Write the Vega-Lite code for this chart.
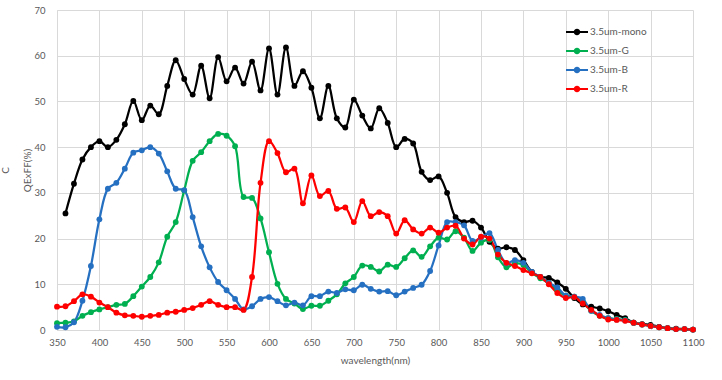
{
  "$schema": "https://vega.github.io/schema/vega-lite/v6.json",
  "autosize": {"type": "none"},
  "padding": {"left": 57, "top": 10, "right": 29, "bottom": 50},
  "width": 636,
  "height": 320,
  "background": "white",
  "config": {
    "font": "Lato",
    "view": {"stroke": null},
    "axis": {
      "gridColor": "#D9D9D9",
      "gridWidth": 1,
      "domainColor": "#D9D9D9",
      "ticks": false,
      "labelColor": "#595959",
      "labelFontSize": 9.5,
      "labelFont": "Lato",
      "titleColor": "#595959",
      "titleFontWeight": "normal",
      "titleFontSize": 10,
      "titleFont": "Lato"
    }
  },
  "data": {
    "values": [
      {"s":"3.5um-mono","nm":360,"v":25.5},{"s":"3.5um-mono","nm":370,"v":32.0},{"s":"3.5um-mono","nm":380,"v":37.3},{"s":"3.5um-mono","nm":390,"v":40.0},{"s":"3.5um-mono","nm":400,"v":41.3},{"s":"3.5um-mono","nm":410,"v":40.0},{"s":"3.5um-mono","nm":420,"v":41.6},{"s":"3.5um-mono","nm":430,"v":45.0},{"s":"3.5um-mono","nm":440,"v":50.1},{"s":"3.5um-mono","nm":450,"v":45.9},{"s":"3.5um-mono","nm":460,"v":49.1},{"s":"3.5um-mono","nm":470,"v":47.2},{"s":"3.5um-mono","nm":480,"v":53.4},{"s":"3.5um-mono","nm":490,"v":59.0},{"s":"3.5um-mono","nm":500,"v":54.9},{"s":"3.5um-mono","nm":510,"v":51.5},{"s":"3.5um-mono","nm":520,"v":57.8},{"s":"3.5um-mono","nm":530,"v":50.7},{"s":"3.5um-mono","nm":540,"v":59.7},{"s":"3.5um-mono","nm":550,"v":54.4},{"s":"3.5um-mono","nm":560,"v":57.4},{"s":"3.5um-mono","nm":570,"v":53.9},{"s":"3.5um-mono","nm":580,"v":58.7},{"s":"3.5um-mono","nm":590,"v":52.4},{"s":"3.5um-mono","nm":600,"v":61.6},{"s":"3.5um-mono","nm":610,"v":51.5},{"s":"3.5um-mono","nm":620,"v":61.8},{"s":"3.5um-mono","nm":630,"v":53.4},{"s":"3.5um-mono","nm":640,"v":56.6},{"s":"3.5um-mono","nm":650,"v":53.0},{"s":"3.5um-mono","nm":660,"v":46.3},{"s":"3.5um-mono","nm":670,"v":53.4},{"s":"3.5um-mono","nm":680,"v":46.3},{"s":"3.5um-mono","nm":690,"v":44.3},{"s":"3.5um-mono","nm":700,"v":50.4},{"s":"3.5um-mono","nm":710,"v":46.9},{"s":"3.5um-mono","nm":720,"v":44.1},{"s":"3.5um-mono","nm":730,"v":48.5},{"s":"3.5um-mono","nm":740,"v":45.3},{"s":"3.5um-mono","nm":750,"v":40.0},{"s":"3.5um-mono","nm":760,"v":41.8},{"s":"3.5um-mono","nm":770,"v":40.8},{"s":"3.5um-mono","nm":780,"v":34.6},{"s":"3.5um-mono","nm":790,"v":32.8},{"s":"3.5um-mono","nm":800,"v":33.6},{"s":"3.5um-mono","nm":810,"v":30.0},{"s":"3.5um-mono","nm":820,"v":24.7},{"s":"3.5um-mono","nm":830,"v":23.6},{"s":"3.5um-mono","nm":840,"v":23.9},{"s":"3.5um-mono","nm":850,"v":22.4},{"s":"3.5um-mono","nm":860,"v":19.3},{"s":"3.5um-mono","nm":870,"v":17.8},{"s":"3.5um-mono","nm":880,"v":18.1},{"s":"3.5um-mono","nm":890,"v":17.5},{"s":"3.5um-mono","nm":900,"v":15.3},{"s":"3.5um-mono","nm":910,"v":12.7},{"s":"3.5um-mono","nm":920,"v":11.6},{"s":"3.5um-mono","nm":930,"v":11.4},{"s":"3.5um-mono","nm":940,"v":10.4},{"s":"3.5um-mono","nm":950,"v":9.0},{"s":"3.5um-mono","nm":960,"v":7.0},{"s":"3.5um-mono","nm":970,"v":5.6},{"s":"3.5um-mono","nm":980,"v":5.1},{"s":"3.5um-mono","nm":990,"v":4.7},{"s":"3.5um-mono","nm":1000,"v":4.1},{"s":"3.5um-mono","nm":1010,"v":3.3},{"s":"3.5um-mono","nm":1020,"v":2.6},{"s":"3.5um-mono","nm":1030,"v":1.6},{"s":"3.5um-mono","nm":1040,"v":1.3},{"s":"3.5um-mono","nm":1050,"v":1.1},{"s":"3.5um-mono","nm":1060,"v":0.7},{"s":"3.5um-mono","nm":1070,"v":0.4},{"s":"3.5um-mono","nm":1080,"v":0.3},{"s":"3.5um-mono","nm":1090,"v":0.2},{"s":"3.5um-mono","nm":1100,"v":0.1},
      {"s":"3.5um-G","nm":350,"v":1.5},{"s":"3.5um-G","nm":360,"v":1.6},{"s":"3.5um-G","nm":370,"v":1.9},{"s":"3.5um-G","nm":380,"v":3.1},{"s":"3.5um-G","nm":390,"v":3.9},{"s":"3.5um-G","nm":400,"v":4.5},{"s":"3.5um-G","nm":410,"v":5.0},{"s":"3.5um-G","nm":420,"v":5.5},{"s":"3.5um-G","nm":430,"v":5.7},{"s":"3.5um-G","nm":440,"v":7.4},{"s":"3.5um-G","nm":450,"v":9.5},{"s":"3.5um-G","nm":460,"v":11.6},{"s":"3.5um-G","nm":470,"v":14.8},{"s":"3.5um-G","nm":480,"v":20.4},{"s":"3.5um-G","nm":490,"v":23.6},{"s":"3.5um-G","nm":500,"v":30.5},{"s":"3.5um-G","nm":510,"v":37.0},{"s":"3.5um-G","nm":520,"v":38.9},{"s":"3.5um-G","nm":530,"v":41.3},{"s":"3.5um-G","nm":540,"v":42.9},{"s":"3.5um-G","nm":550,"v":42.5},{"s":"3.5um-G","nm":560,"v":40.2},{"s":"3.5um-G","nm":570,"v":29.1},{"s":"3.5um-G","nm":580,"v":28.9},{"s":"3.5um-G","nm":590,"v":24.4},{"s":"3.5um-G","nm":600,"v":17.0},{"s":"3.5um-G","nm":610,"v":10.1},{"s":"3.5um-G","nm":620,"v":6.8},{"s":"3.5um-G","nm":630,"v":5.8},{"s":"3.5um-G","nm":640,"v":4.6},{"s":"3.5um-G","nm":650,"v":5.3},{"s":"3.5um-G","nm":660,"v":5.3},{"s":"3.5um-G","nm":670,"v":6.4},{"s":"3.5um-G","nm":680,"v":7.8},{"s":"3.5um-G","nm":690,"v":10.2},{"s":"3.5um-G","nm":700,"v":11.6},{"s":"3.5um-G","nm":710,"v":14.1},{"s":"3.5um-G","nm":720,"v":13.8},{"s":"3.5um-G","nm":730,"v":12.8},{"s":"3.5um-G","nm":740,"v":14.3},{"s":"3.5um-G","nm":750,"v":13.8},{"s":"3.5um-G","nm":760,"v":15.7},{"s":"3.5um-G","nm":770,"v":17.4},{"s":"3.5um-G","nm":780,"v":16.0},{"s":"3.5um-G","nm":790,"v":18.3},{"s":"3.5um-G","nm":800,"v":20.2},{"s":"3.5um-G","nm":810,"v":19.8},{"s":"3.5um-G","nm":820,"v":21.6},{"s":"3.5um-G","nm":830,"v":20.2},{"s":"3.5um-G","nm":840,"v":17.3},{"s":"3.5um-G","nm":850,"v":19.1},{"s":"3.5um-G","nm":860,"v":19.7},{"s":"3.5um-G","nm":870,"v":15.9},{"s":"3.5um-G","nm":880,"v":13.7},{"s":"3.5um-G","nm":890,"v":14.6},{"s":"3.5um-G","nm":900,"v":14.2},{"s":"3.5um-G","nm":910,"v":12.5},{"s":"3.5um-G","nm":920,"v":11.3},{"s":"3.5um-G","nm":930,"v":10.3},{"s":"3.5um-G","nm":940,"v":8.7},{"s":"3.5um-G","nm":950,"v":7.5},{"s":"3.5um-G","nm":960,"v":7.3},{"s":"3.5um-G","nm":970,"v":6.0},{"s":"3.5um-G","nm":980,"v":4.2},{"s":"3.5um-G","nm":990,"v":3.1},{"s":"3.5um-G","nm":1000,"v":2.6},{"s":"3.5um-G","nm":1010,"v":2.4},{"s":"3.5um-G","nm":1020,"v":2.2},{"s":"3.5um-G","nm":1030,"v":1.6},{"s":"3.5um-G","nm":1040,"v":1.2},{"s":"3.5um-G","nm":1050,"v":0.9},{"s":"3.5um-G","nm":1060,"v":0.6},{"s":"3.5um-G","nm":1070,"v":0.4},{"s":"3.5um-G","nm":1080,"v":0.2},{"s":"3.5um-G","nm":1090,"v":0.2},{"s":"3.5um-G","nm":1100,"v":0.1},
      {"s":"3.5um-B","nm":350,"v":0.7},{"s":"3.5um-B","nm":360,"v":0.6},{"s":"3.5um-B","nm":370,"v":1.7},{"s":"3.5um-B","nm":380,"v":6.4},{"s":"3.5um-B","nm":390,"v":14.0},{"s":"3.5um-B","nm":400,"v":24.2},{"s":"3.5um-B","nm":410,"v":30.9},{"s":"3.5um-B","nm":420,"v":32.2},{"s":"3.5um-B","nm":430,"v":35.3},{"s":"3.5um-B","nm":440,"v":38.8},{"s":"3.5um-B","nm":450,"v":39.3},{"s":"3.5um-B","nm":460,"v":40.0},{"s":"3.5um-B","nm":470,"v":38.6},{"s":"3.5um-B","nm":480,"v":34.7},{"s":"3.5um-B","nm":490,"v":30.9},{"s":"3.5um-B","nm":500,"v":30.6},{"s":"3.5um-B","nm":510,"v":24.7},{"s":"3.5um-B","nm":520,"v":18.3},{"s":"3.5um-B","nm":530,"v":13.7},{"s":"3.5um-B","nm":540,"v":10.5},{"s":"3.5um-B","nm":550,"v":8.7},{"s":"3.5um-B","nm":560,"v":6.8},{"s":"3.5um-B","nm":570,"v":4.5},{"s":"3.5um-B","nm":580,"v":5.2},{"s":"3.5um-B","nm":590,"v":6.8},{"s":"3.5um-B","nm":600,"v":7.2},{"s":"3.5um-B","nm":610,"v":6.3},{"s":"3.5um-B","nm":620,"v":5.4},{"s":"3.5um-B","nm":630,"v":6.0},{"s":"3.5um-B","nm":640,"v":5.4},{"s":"3.5um-B","nm":650,"v":7.4},{"s":"3.5um-B","nm":660,"v":7.4},{"s":"3.5um-B","nm":670,"v":8.4},{"s":"3.5um-B","nm":680,"v":8.1},{"s":"3.5um-B","nm":690,"v":8.9},{"s":"3.5um-B","nm":700,"v":8.7},{"s":"3.5um-B","nm":710,"v":9.9},{"s":"3.5um-B","nm":720,"v":9.0},{"s":"3.5um-B","nm":730,"v":8.4},{"s":"3.5um-B","nm":740,"v":8.5},{"s":"3.5um-B","nm":750,"v":7.6},{"s":"3.5um-B","nm":760,"v":8.4},{"s":"3.5um-B","nm":770,"v":9.2},{"s":"3.5um-B","nm":780,"v":9.9},{"s":"3.5um-B","nm":790,"v":12.9},{"s":"3.5um-B","nm":800,"v":18.5},{"s":"3.5um-B","nm":810,"v":23.6},{"s":"3.5um-B","nm":820,"v":23.6},{"s":"3.5um-B","nm":830,"v":22.9},{"s":"3.5um-B","nm":840,"v":19.5},{"s":"3.5um-B","nm":850,"v":20.2},{"s":"3.5um-B","nm":860,"v":21.2},{"s":"3.5um-B","nm":870,"v":17.5},{"s":"3.5um-B","nm":880,"v":14.6},{"s":"3.5um-B","nm":890,"v":15.3},{"s":"3.5um-B","nm":900,"v":14.7},{"s":"3.5um-B","nm":910,"v":12.7},{"s":"3.5um-B","nm":920,"v":11.6},{"s":"3.5um-B","nm":930,"v":10.3},{"s":"3.5um-B","nm":940,"v":9.3},{"s":"3.5um-B","nm":950,"v":7.5},{"s":"3.5um-B","nm":960,"v":7.3},{"s":"3.5um-B","nm":970,"v":6.8},{"s":"3.5um-B","nm":980,"v":4.2},{"s":"3.5um-B","nm":990,"v":3.3},{"s":"3.5um-B","nm":1000,"v":2.6},{"s":"3.5um-B","nm":1010,"v":2.3},{"s":"3.5um-B","nm":1020,"v":2.1},{"s":"3.5um-B","nm":1030,"v":1.6},{"s":"3.5um-B","nm":1040,"v":1.2},{"s":"3.5um-B","nm":1050,"v":0.9},{"s":"3.5um-B","nm":1060,"v":0.6},{"s":"3.5um-B","nm":1070,"v":0.4},{"s":"3.5um-B","nm":1080,"v":0.2},{"s":"3.5um-B","nm":1090,"v":0.2},{"s":"3.5um-B","nm":1100,"v":0.1},
      {"s":"3.5um-R","nm":350,"v":5.1},{"s":"3.5um-R","nm":360,"v":5.2},{"s":"3.5um-R","nm":370,"v":6.3},{"s":"3.5um-R","nm":380,"v":7.8},{"s":"3.5um-R","nm":390,"v":7.3},{"s":"3.5um-R","nm":400,"v":6.0},{"s":"3.5um-R","nm":410,"v":5.0},{"s":"3.5um-R","nm":420,"v":3.8},{"s":"3.5um-R","nm":430,"v":3.2},{"s":"3.5um-R","nm":440,"v":3.1},{"s":"3.5um-R","nm":450,"v":2.9},{"s":"3.5um-R","nm":460,"v":3.1},{"s":"3.5um-R","nm":470,"v":3.3},{"s":"3.5um-R","nm":480,"v":3.8},{"s":"3.5um-R","nm":490,"v":4.0},{"s":"3.5um-R","nm":500,"v":4.4},{"s":"3.5um-R","nm":510,"v":4.8},{"s":"3.5um-R","nm":520,"v":5.5},{"s":"3.5um-R","nm":530,"v":6.3},{"s":"3.5um-R","nm":540,"v":5.5},{"s":"3.5um-R","nm":550,"v":5.0},{"s":"3.5um-R","nm":560,"v":5.0},{"s":"3.5um-R","nm":570,"v":4.4},{"s":"3.5um-R","nm":580,"v":11.6},{"s":"3.5um-R","nm":590,"v":32.2},{"s":"3.5um-R","nm":600,"v":41.3},{"s":"3.5um-R","nm":610,"v":38.7},{"s":"3.5um-R","nm":620,"v":34.5},{"s":"3.5um-R","nm":630,"v":35.3},{"s":"3.5um-R","nm":640,"v":27.7},{"s":"3.5um-R","nm":650,"v":33.8},{"s":"3.5um-R","nm":660,"v":29.3},{"s":"3.5um-R","nm":670,"v":30.4},{"s":"3.5um-R","nm":680,"v":26.5},{"s":"3.5um-R","nm":690,"v":26.8},{"s":"3.5um-R","nm":700,"v":23.6},{"s":"3.5um-R","nm":710,"v":28.2},{"s":"3.5um-R","nm":720,"v":24.9},{"s":"3.5um-R","nm":730,"v":25.8},{"s":"3.5um-R","nm":740,"v":24.9},{"s":"3.5um-R","nm":750,"v":21.1},{"s":"3.5um-R","nm":760,"v":24.0},{"s":"3.5um-R","nm":770,"v":22.0},{"s":"3.5um-R","nm":780,"v":21.1},{"s":"3.5um-R","nm":790,"v":22.4},{"s":"3.5um-R","nm":800,"v":21.3},{"s":"3.5um-R","nm":810,"v":22.4},{"s":"3.5um-R","nm":820,"v":22.8},{"s":"3.5um-R","nm":830,"v":20.0},{"s":"3.5um-R","nm":840,"v":18.7},{"s":"3.5um-R","nm":850,"v":20.4},{"s":"3.5um-R","nm":860,"v":20.0},{"s":"3.5um-R","nm":870,"v":16.5},{"s":"3.5um-R","nm":880,"v":14.7},{"s":"3.5um-R","nm":890,"v":14.0},{"s":"3.5um-R","nm":900,"v":13.1},{"s":"3.5um-R","nm":910,"v":12.4},{"s":"3.5um-R","nm":920,"v":11.6},{"s":"3.5um-R","nm":930,"v":10.0},{"s":"3.5um-R","nm":940,"v":8.1},{"s":"3.5um-R","nm":950,"v":7.0},{"s":"3.5um-R","nm":960,"v":7.2},{"s":"3.5um-R","nm":970,"v":5.8},{"s":"3.5um-R","nm":980,"v":4.4},{"s":"3.5um-R","nm":990,"v":3.1},{"s":"3.5um-R","nm":1000,"v":2.3},{"s":"3.5um-R","nm":1010,"v":2.2},{"s":"3.5um-R","nm":1020,"v":2.0},{"s":"3.5um-R","nm":1030,"v":1.6},{"s":"3.5um-R","nm":1040,"v":1.2},{"s":"3.5um-R","nm":1050,"v":0.9},{"s":"3.5um-R","nm":1060,"v":0.6},{"s":"3.5um-R","nm":1070,"v":0.4},{"s":"3.5um-R","nm":1080,"v":0.2},{"s":"3.5um-R","nm":1090,"v":0.2},{"s":"3.5um-R","nm":1100,"v":0.1}
    ]
  },
  "encoding": {
    "x": {
      "field": "nm", "type": "quantitative",
      "scale": {"domain": [350, 1100], "nice": false, "zero": false},
      "axis": {"values": [350,400,450,500,550,600,650,700,750,800,850,900,950,1000,1050,1100], "format": "d", "title": "wavelength(nm)", "labelPadding": 7, "titlePadding": 9, "labelFlush": false}
    },
    "y": {
      "field": "v", "type": "quantitative",
      "scale": {"domain": [0, 70], "nice": false},
      "axis": {"values": [0,10,20,30,40,50,60,70], "title": ["C", "QExFF(%)"], "titleLineHeight": 22, "labelPadding": 12, "titlePadding": 1, "domain": true}
    },
    "color": {
      "field": "s", "type": "nominal",
      "scale": {"domain": ["3.5um-mono", "3.5um-G", "3.5um-B", "3.5um-R"], "range": ["#000000", "#00B050", "#2670C2", "#FF0000"]},
      "legend": {
        "title": null,
        "orient": "none",
        "legendX": 509,
        "legendY": 11,
        "symbolType": "M-1,-0.1L1,-0.1L1,0.1L-1,0.1Z M0.3,0A0.3,0.3 0 1,1 -0.3,0A0.3,0.3 0 1,1 0.3,0Z",
        "symbolSize": 484,
        "symbolStrokeWidth": 0,
        "labelFontSize": 10,
        "labelColor": "#595959",
        "labelFont": "Lato",
        "labelOffset": 2,
        "rowPadding": 3,
        "encode": {"symbols": {"update": {"fill": {"scale": "color", "field": "value"}, "fillOpacity": {"value": 1}, "stroke": {"value": "transparent"}}}}
      }
    }
  },
  "layer": [
    {"mark": {"type": "line", "strokeWidth": 2.25, "interpolate": "catmull-rom"}},
    {"mark": {"type": "point", "filled": true, "size": 34, "opacity": 1}}
  ]
}
